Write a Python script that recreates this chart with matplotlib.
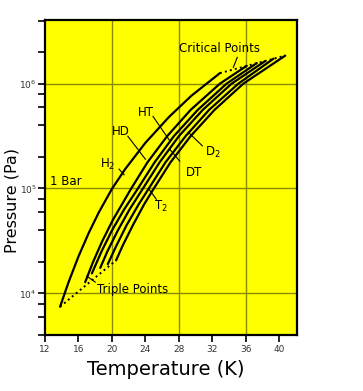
import numpy as np
import matplotlib
matplotlib.use("Agg")
import matplotlib.pyplot as plt

# vapour pressure curves of the hydrogen isotopes
# each curve runs from its triple point (first) to its critical point (last)
t_h2 = [13.8, 14.8, 16.0, 17.2, 18.4, 20.0, 21.6, 24.0, 26.8, 29.5, 32.9]
p_h2 = [7.46e3, 1.27e4, 2.25e4, 3.73e4, 5.86e4, 9.93e4, 1.54e5, 2.73e5, 4.8e5, 7.68e5, 1.26e6]

t_hd = [16.8, 17.75, 18.85, 20.1, 22.3, 24.25, 26.6, 29.4, 32.9, 36.1]
p_hd = [1.28e4, 2.0e4, 3.16e4, 5.0e4, 1.0e5, 1.78e5, 3.16e5, 5.62e5, 1.0e6, 1.48e6]

t_ht = [17.6, 18.75, 20.0, 21.45, 23.1, 25.1, 27.4, 30.25, 33.7, 37.3]
p_ht = [1.55e4, 2.51e4, 3.98e4, 6.31e4, 1.0e5, 1.78e5, 3.16e5, 5.62e5, 1.0e6, 1.57e6]

t_d2 = [18.6, 19.45, 20.7, 22.1, 23.7, 25.7, 28.0, 30.85, 34.3, 38.3]
p_d2 = [1.75e4, 2.51e4, 3.98e4, 6.31e4, 1.0e5, 1.78e5, 3.16e5, 5.62e5, 1.0e6, 1.64e6]

t_dt = [19.5, 20.5, 21.75, 23.2, 24.4, 26.4, 28.8, 31.6, 35.1, 39.3]
p_dt = [1.9e4, 2.82e4, 4.47e4, 7.08e4, 1.0e5, 1.78e5, 3.16e5, 5.62e5, 1.0e6, 1.73e6]

t_t2 = [20.5, 21.25, 22.5, 23.85, 25.0, 27.0, 29.4, 32.25, 35.7, 40.7]
p_t2 = [2.07e4, 2.82e4, 4.47e4, 7.08e4, 1.0e5, 1.78e5, 3.16e5, 5.62e5, 1.0e6, 1.85e6]

curves = [(t_h2, p_h2), (t_hd, p_hd), (t_ht, p_ht), (t_d2, p_d2), (t_dt, p_dt), (t_t2, p_t2)]

x_ticks = [12, 16, 20, 24, 28, 32, 36, 40]
y_ticks = [1e4, 1e5, 1e6]
y_ticklabels = ['$10^{4}$', '$10^{5}$', '$10^{6}$']
y_minor = [4e3, 6e3, 8e3, 2e4, 4e4, 6e4, 8e4, 2e5, 4e5, 6e5, 8e5, 2e6, 4e6]
grid_t = [20, 28, 36]
grid_p = [1e4, 1e5, 1e6]

fig = plt.figure(figsize=(3.63, 3.91), dpi=100)
ax = fig.add_axes([0.124, 0.143, 0.694, 0.806])
ax.set_facecolor('#ffff00')

for t in grid_t:
    ax.axvline(t, color='#8a8a00', lw=1, zorder=1)
for p in grid_p:
    ax.axhline(p, color='#8a8a00', lw=1, zorder=1)

for ts, ps in curves:
    ax.plot(ts, ps, color='black', lw=1.6, zorder=3, solid_capstyle='round', solid_joinstyle='round')

# dotted lines joining the triple points and the critical points
ax.plot([t_h2[0], t_t2[0]], [p_h2[0], p_t2[0]], color='black', lw=1.4, ls=':', zorder=3)
ax.plot([t_h2[-1], t_t2[-1]], [p_h2[-1], p_t2[-1]], color='black', lw=1.4, ls=':', zorder=3)

ax.set_yscale('log')
ax.set_xlim(12, 42.1)
ax.set_ylim(4e3, 4.05e6)
ax.set_xticks(x_ticks)
ax.set_xticklabels([str(t) for t in x_ticks])
ax.set_yticks(y_ticks)
ax.set_yticklabels(y_ticklabels)
ax.set_yticks(y_minor, minor=True)
ax.yaxis.set_minor_formatter(matplotlib.ticker.NullFormatter())
ax.tick_params(axis='both', which='both', direction='out', length=5, width=1.2,
               colors='black', labelcolor='#333333')
ax.tick_params(axis='x', labelsize=6.5, pad=2)
ax.tick_params(axis='y', labelsize=6.5, pad=1)
for s in ax.spines.values():
    s.set_linewidth(1.6)

lab = dict(fontsize=8.5, color='black', ha='center', va='center', zorder=4)
lk = dict(color='black', lw=0.8, zorder=4)
ax.text(32.9, 2.17e6, 'Critical Points', **lab)
ax.plot([34.97, 34.5], [1.78e6, 1.43e6], **lk)
ax.text(24.0, 5.3e5, 'HT', **lab)
ax.plot([24.9, 26.95], [4.88e5, 2.82e5], **lk)
ax.text(21.0, 3.5e5, 'HD', **lab)
ax.plot([21.9, 24.0], [3.15e5, 1.9e5], **lk)
ax.text(19.5, 1.7e5, 'H$_2$', **lab)
ax.plot([20.85, 21.45], [1.53e5, 1.35e5], **lk)
ax.text(32.0, 2.2e5, 'D$_2$', **lab)
ax.plot([30.8, 29.1], [2.55e5, 3.45e5], **lk)
ax.text(29.8, 1.43e5, 'DT', **lab)
ax.plot([28.1, 26.9], [1.82e5, 2.37e5], **lk)
ax.text(25.8, 6.8e4, 'T$_2$', **lab)
ax.plot([24.4, 25.3], [9.9e4, 7.9e4], **lk)
ax.text(12.6, 1.17e5, '1 Bar', fontsize=8.5, ha='left', va='center', zorder=4)
ax.text(22.5, 1.1e4, 'Triple Points', **lab)
ax.plot([18.0, 17.0], [1.28e4, 1.46e4], **lk)

fig.text(0.033, 0.487, 'Pressure (Pa)', rotation=90, fontsize=11.5, ha='center', va='center')
fig.text(0.457, 0.054, 'Temperature (K)', fontsize=14, ha='center', va='center')

fig.savefig('out.png', dpi=100, facecolor='white')
